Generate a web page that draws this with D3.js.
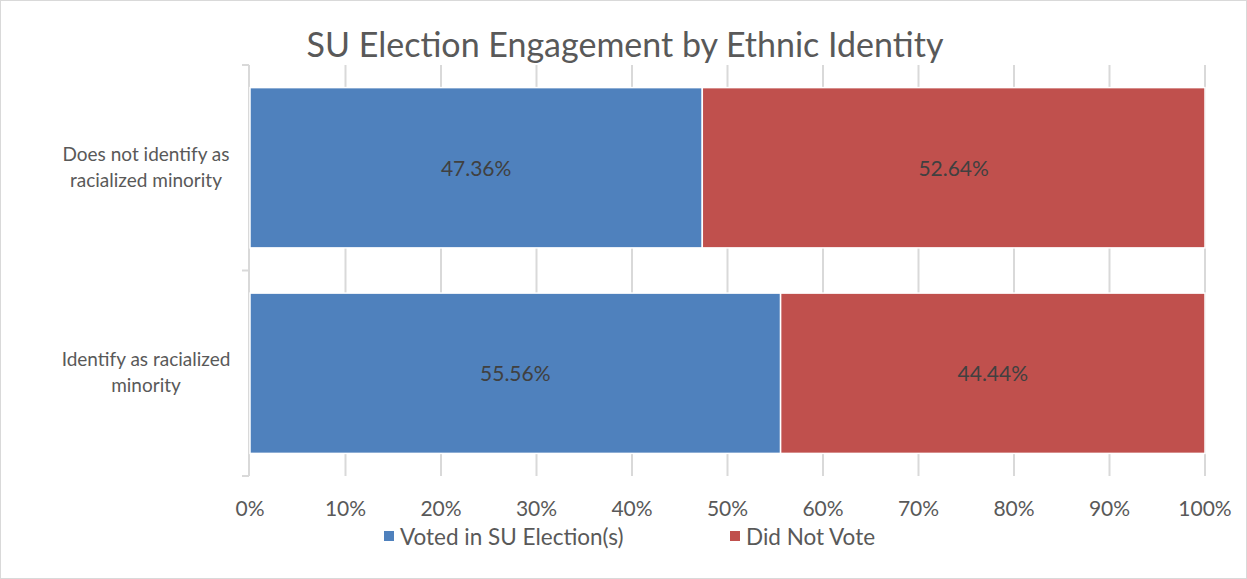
<!DOCTYPE html>
<html>
<head>
<meta charset="utf-8">
<script src="https://cdn.jsdelivr.net/npm/d3@7"></script>
<style>
  body { margin: 0; background: #fff; }
  svg { font-family: Lato, "Open Sans", sans-serif; }
</style>
</head>
<body>
<div id="chart"></div>
<script>
// Data
const categories = ['Does not identify as racialized minority', 'Identify as racialized minority'];
const categoryLines = [['Does not identify as', 'racialized minority'], ['Identify as racialized', 'minority']];
const seriesNames = ['Voted in SU Election(s)', 'Did Not Vote'];
const voted = [47.36, 55.56];
const didNotVote = [52.64, 44.44];
const xTicks = [0, 10, 20, 30, 40, 50, 60, 70, 80, 90, 100];

const CONFIG = {
  width: 1247,
  height: 579,
  plot: { left: 250, right: 1205, top: 65, bottom: 476 },
  colors: ['#4f81bd', '#c0504d'],
  grid: '#d9d9d9',
  text: '#595959'
};

const rows = categories.map((c, i) => ({ category: c, lines: categoryLines[i], values: [voted[i], didNotVote[i]] }));

const svg = d3.select('#chart').append('svg')
  .attr('width', CONFIG.width)
  .attr('height', CONFIG.height);

svg.append('rect')
  .attr('x', 0.5).attr('y', 0.5)
  .attr('width', CONFIG.width - 1).attr('height', CONFIG.height - 1)
  .attr('fill', '#fff')
  .attr('stroke', '#d9d9d9');

const x = d3.scaleLinear().domain([0, 100]).range([CONFIG.plot.left, CONFIG.plot.right]);
const y = d3.scaleBand().domain(categories).range([CONFIG.plot.top, CONFIG.plot.bottom]).paddingInner(0.22).paddingOuter(0.11);

// Title
svg.append('text')
  .attr('x', 625)
  .attr('y', 57)
  .attr('text-anchor', 'middle')
  .attr('fill', CONFIG.text)
  .style('font-size', '34px')
  .text('SU Election Engagement by Ethnic Identity');

// Gridlines
svg.append('g')
  .selectAll('line')
  .data(xTicks.slice(1))
  .join('line')
  .attr('x1', d => x(d)).attr('x2', d => x(d))
  .attr('y1', CONFIG.plot.top).attr('y2', CONFIG.plot.bottom)
  .attr('stroke', CONFIG.grid)
  .attr('stroke-width', 2);

// Left axis line with ticks
const catBand = (CONFIG.plot.bottom - CONFIG.plot.top) / categories.length;
const leftAxis = svg.append('g').attr('stroke', CONFIG.grid).attr('stroke-width', 2);
leftAxis.append('line')
  .attr('x1', x(0) - 1).attr('x2', x(0) - 1)
  .attr('y1', CONFIG.plot.top).attr('y2', CONFIG.plot.bottom);
leftAxis.selectAll('.tick')
  .data(d3.range(categories.length + 1))
  .join('line')
  .attr('x1', x(0) - 8).attr('x2', x(0) - 1)
  .attr('y1', i => CONFIG.plot.top + i * catBand)
  .attr('y2', i => CONFIG.plot.top + i * catBand);

// Bars
const groups = svg.append('g')
  .selectAll('g')
  .data(rows)
  .join('g');

groups.selectAll('rect')
  .data(d => {
    let acc = 0;
    return d.values.map((v, j) => {
      const seg = { category: d.category, x0: acc, x1: acc + v, value: v, j };
      acc += v;
      return seg;
    });
  })
  .join('rect')
  .attr('x', d => x(d.x0))
  .attr('y', d => y(d.category))
  .attr('width', d => x(d.x1) - x(d.x0))
  .attr('height', y.bandwidth())
  .attr('fill', d => CONFIG.colors[d.j])
  .attr('stroke', '#fff')
  .attr('stroke-width', 1.5);

groups.selectAll('text')
  .data(d => {
    let acc = 0;
    return d.values.map(v => {
      const seg = { category: d.category, mid: acc + v / 2, value: v };
      acc += v;
      return seg;
    });
  })
  .join('text')
  .attr('x', d => x(d.mid))
  .attr('y', d => y(d.category) + y.bandwidth() / 2 + 8)
  .attr('text-anchor', 'middle')
  .attr('fill', '#404040')
  .style('font-size', '21px')
  .text(d => d.value.toFixed(2) + '%');

// Category labels
const catLabels = svg.append('g')
  .selectAll('text')
  .data(rows)
  .join('text')
  .attr('text-anchor', 'middle')
  .attr('fill', CONFIG.text)
  .style('font-size', '19px');

catLabels.selectAll('tspan')
  .data(d => d.lines.map((l, k) => ({ l, k, category: d.category, n: d.lines.length })))
  .join('tspan')
  .attr('x', 146)
  .attr('y', d => y(d.category) + y.bandwidth() / 2 + (d.k - (d.n - 1) / 2) * 26 + 6)
  .text(d => d.l);

// X axis labels
svg.append('g')
  .selectAll('text')
  .data(xTicks)
  .join('text')
  .attr('x', d => x(d))
  .attr('y', 516)
  .attr('text-anchor', 'middle')
  .attr('fill', CONFIG.text)
  .style('font-size', '21px')
  .text(d => d + '%');

// Legend
const legendX = [384, 730];
const legend = svg.append('g')
  .selectAll('g')
  .data(seriesNames)
  .join('g')
  .attr('transform', (d, i) => `translate(${legendX[i]}, 537)`);

legend.append('rect')
  .attr('x', 0).attr('y', -6)
  .attr('width', 10).attr('height', 10)
  .attr('fill', (d, i) => CONFIG.colors[i]);

legend.append('text')
  .attr('x', 16)
  .attr('y', 8)
  .attr('fill', CONFIG.text)
  .style('font-size', '22.5px')
  .text(d => d);
</script>
</body>
</html>
